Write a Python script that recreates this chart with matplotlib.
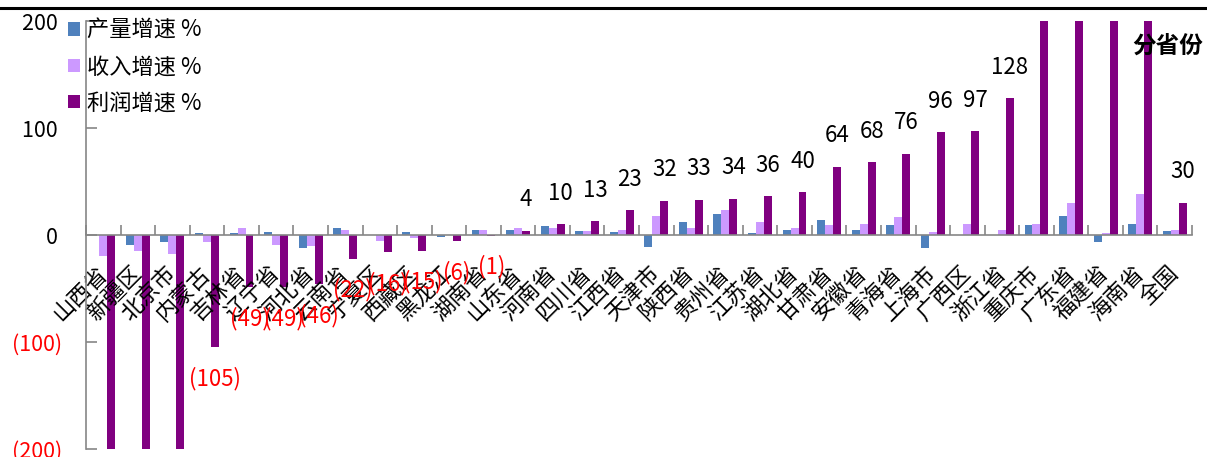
import matplotlib.pyplot as plt
from matplotlib.lines import Line2D
from matplotlib.ticker import FixedLocator
import numpy as np

plt.rcParams['font.family'] = ['Noto Sans CJK SC', 'DejaVu Sans']

provinces = ['山西省', '新疆区', '北京市', '内蒙古', '吉林省', '辽宁省', '河北省', '云南省',
             '宁夏区', '西藏区', '黑龙江', '湖南省', '山东省', '河南省', '四川省', '江西省',
             '天津市', '陕西省', '贵州省', '江苏省', '湖北省', '甘肃省', '安徽省', '青海省',
             '上海市', '广西区', '浙江省', '重庆市', '广东省', '福建省', '海南省', '全国']
output_growth = [0, -9, -7, 2, 2, 3, -12.5, 6.5, 0, 3, -1.5, 5, 5, 8, 4, 3,
                 -11.5, 12, 20, 2, 5, 14, 5, 9, -12, 0, 0, 9, 17.5, -7, 10, 4]
revenue_growth = [-20, -15, -18, -7, 6.5, -9, -10, 5, -6, -3, 0, 5, 6.5, 6.5, 4, 5,
                  17.5, 6.5, 23.5, 12, 6.5, 9, 10, 16.5, 3, 10, 5, 10, 29.5, 2, 38, 5]
# bars beyond +/-200 run off the axis and carry no label
profit_growth = [-260, -240, -230, -105, -49, -49, -46, -22, -16, -15, -6, -1, 4, 10, 13, 23,
                 32, 33, 34, 36, 40, 64, 68, 76, 96, 97, 128, 230, 250, 220, 240, 30]
series_names = ['产量增速 %', '收入增速 %', '利润增速 %']
colors = ['#4F81BD', '#CC99FF', '#800080']
yticks = [-200, -100, 0, 100, 200]

W, H = 1207, 457
fig = plt.figure(figsize=(W / 100, H / 100), dpi=100)
ax = fig.add_axes([86 / W, 1 - 449 / H, (1192 - 86) / W, (449 - 21) / H])

x = np.arange(len(provinces))
bw = 0.23
for k, (vals, name, c) in enumerate(zip([output_growth, revenue_growth, profit_growth],
                                        series_names, colors)):
    ax.bar(x + (k - 1) * bw, vals, bw, color=c, label=name, zorder=1)

# value labels on the profit series
for xi, v in zip(x, profit_growth):
    if abs(v) > 200:
        continue
    if v < 0:
        txt, col, off = '(%d)' % abs(v), 'red', -31
    else:
        txt, col, off = '%d' % v, 'black', 31
    ax.annotate(txt, (xi + bw, v), xytext=(0, off), textcoords='offset pixels',
                ha='center', va='center', fontsize=16, color=col)

ax.set_xlim(-0.5, len(provinces) - 0.5)
ax.set_ylim(-200, 200)

for s in ['top', 'right']:
    ax.spines[s].set_visible(False)
ax.spines['bottom'].set_position(('data', 0))
for s in ['left', 'bottom']:
    ax.spines[s].set_color('#868686')
    ax.spines[s].set_linewidth(1.2)

ax.set_xticks(x)
ax.set_xticklabels(provinces, rotation=45, ha='right', va='center',
                   rotation_mode='anchor', fontsize=16)
ax.xaxis.set_minor_locator(FixedLocator(np.arange(len(provinces) + 1) - 0.5))
ax.tick_params(axis='x', which='major', length=0, pad=25)
ax.tick_params(axis='x', which='minor', direction='in', length=7, color='#868686', width=1.2)

ax.set_yticks(yticks)
ax.set_yticklabels(['(%d)' % abs(t) if t < 0 else '%d ' % t for t in yticks], fontsize=15.5)
for lab, t in zip(ax.get_yticklabels(), yticks):
    lab.set_color('red' if t < 0 else 'black')
ax.tick_params(axis='y', direction='in', length=8, color='#868686', width=1.2, pad=17)

fig.legend(loc='upper left', bbox_to_anchor=(68 / W, 1 - 19 / H), frameon=False,
           fontsize=16, borderpad=0, borderaxespad=0, handlelength=0.55, handleheight=0.55,
           handletextpad=0.3, labelspacing=0.6)

fig.text(1203 / W, 1 - 46 / H, '分省份', ha='right', va='center', fontsize=17, fontweight='bold')
fig.add_artist(Line2D([0, 1], [1 - 7.5 / H] * 2, color='black', lw=2.2))

fig.savefig('out.png', dpi=100)
